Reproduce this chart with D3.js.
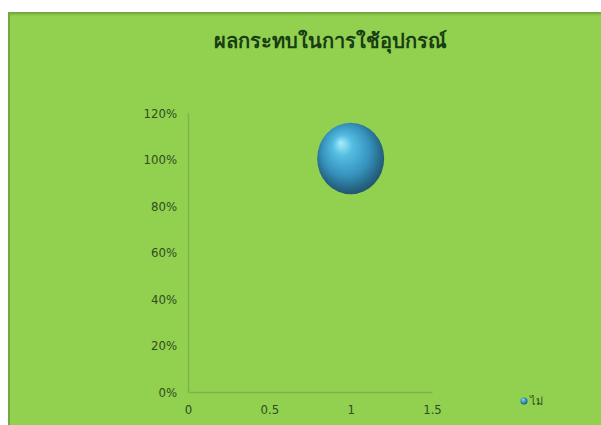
<!DOCTYPE html>
<html><head><meta charset="utf-8">
<script src="https://cdn.jsdelivr.net/npm/d3@7"></script>
<style>html,body{margin:0;padding:0;background:#fff;}svg{display:block;}</style>
</head><body>
<svg id="c" width="601" height="425"></svg>
<script>
const title = "ผลกระทบในการใช้อุปกรณ์";
const seriesName = "ไม่";
const xValues = [1];
const yValues = [1.0];
const sizeValues = [1];
const xTicks = [0, 0.5, 1, 1.5];
const yTicks = [0, 0.2, 0.4, 0.6, 0.8, 1.0, 1.2];

const svg = d3.select("#c");
const defs = svg.append("defs");
const g = defs.append("radialGradient").attr("id","ball").attr("cx","48%").attr("cy","45%").attr("r","58%").attr("fx","35%").attr("fy","28%");
g.append("stop").attr("offset","0%").attr("stop-color","#a8eefa");
g.append("stop").attr("offset","25%").attr("stop-color","#55bde2");
g.append("stop").attr("offset","62%").attr("stop-color","#3592bd");
g.append("stop").attr("offset","90%").attr("stop-color","#245f7c");
g.append("stop").attr("offset","100%").attr("stop-color","#1f4f63");
const bg = defs.append("linearGradient").attr("id","topedge").attr("x1","0").attr("y1","0").attr("x2","0").attr("y2","1");
bg.append("stop").attr("offset","0").attr("stop-color","#6e9e3a");
bg.append("stop").attr("offset","1").attr("stop-color","#92d050");

// chart frame
svg.append("rect").attr("x",8).attr("y",12).attr("width",593).attr("height",413).attr("fill","#92d050");
svg.append("rect").attr("x",8).attr("y",12).attr("width",593).attr("height",4).attr("fill","url(#topedge)");
svg.append("rect").attr("x",8).attr("y",12).attr("width",2).attr("height",413).attr("fill","#74a840");

const x = d3.scaleLinear().domain([0,1.5]).range([188,432]);
const y = d3.scaleLinear().domain([0,1.2]).range([392,113]);
const r = d3.scaleSqrt().domain([0,1]).range([0,33.5]);

svg.append("text").attr("x",330).attr("y",48).attr("text-anchor","middle")
  .attr("font-family","'Noto Sans', sans-serif").attr("font-weight","bold").attr("font-size",20)
  .attr("fill","#183d12").text(title);

const axisColor = "#7db548";
const labelColor = "#2f4d20";
const tickFont = "'Liberation Sans Narrow','DejaVu Sans Condensed',sans-serif";

const yAxis = svg.append("g").attr("transform","translate(188,0)")
  .call(d3.axisLeft(y).tickValues(yTicks).tickFormat(d3.format(".0%")).tickSize(0).tickPadding(11));
yAxis.select(".domain").attr("stroke",axisColor).attr("stroke-width",1.5);
yAxis.selectAll("text").attr("fill",labelColor).attr("font-family",tickFont).attr("font-size",13);

const xAxis = svg.append("g").attr("transform","translate(0,392)")
  .call(d3.axisBottom(x).tickValues(xTicks).tickFormat(d3.format("")).tickSize(0).tickPadding(13));
xAxis.select(".domain").attr("stroke",axisColor).attr("stroke-width",1.5);
xAxis.selectAll("text").attr("fill",labelColor).attr("font-family",tickFont).attr("font-size",13);

svg.append("g").selectAll("ellipse").data(xValues.map((d,i)=>({x:d,y:yValues[i],s:sizeValues[i]})))
  .join("ellipse").attr("cx",d=>x(d.x)).attr("cy",d=>y(d.y)-1).attr("rx",d=>r(d.s)).attr("ry",d=>r(d.s)*1.07)
  .attr("fill","url(#ball)");

// legend
svg.append("circle").attr("cx",524).attr("cy",401).attr("r",3.5).attr("fill","url(#ball)");
svg.append("text").attr("x",530).attr("y",405).attr("font-family","'Noto Sans', sans-serif").attr("font-size",11)
  .attr("fill",labelColor).text(seriesName);
</script>
</body></html>
